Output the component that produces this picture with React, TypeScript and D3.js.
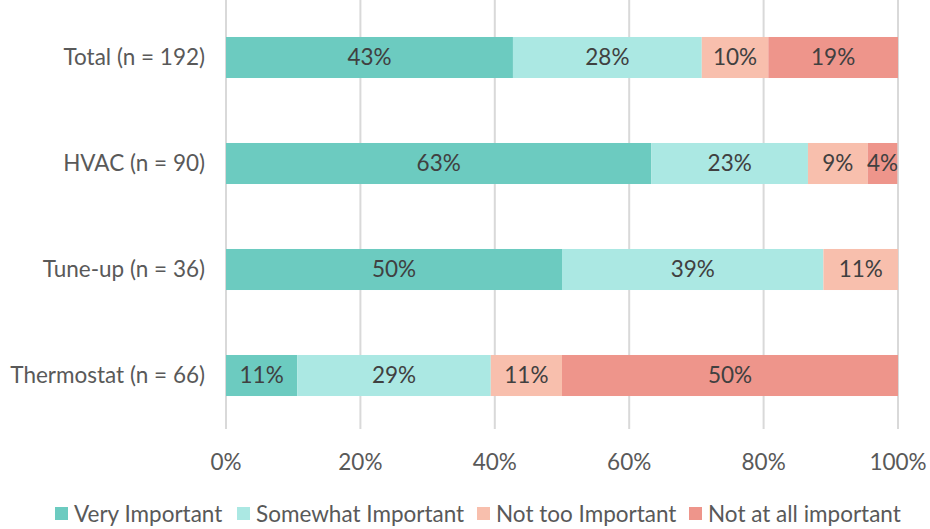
import React from "react";
import * as d3 from "d3";

const categories = ["Total (n = 192)", "HVAC (n = 90)", "Tune-up (n = 36)", "Thermostat (n = 66)"];
const seriesNames = ["Very Important", "Somewhat Important", "Not too Important", "Not at all important"];
const veryImportant = [42.7, 63.3, 50.0, 10.6];
const somewhatImportant = [28.1, 23.3, 38.9, 28.8];
const notTooImportant = [9.9, 8.9, 11.1, 10.6];
const notAtAllImportant = [19.3, 4.4, 0, 50.0];
const xTicks = [0, 20, 40, 60, 80, 100];
const colors = ["#6ccbc0", "#abe8e3", "#f8bfad", "#ee958b"];

const W = 930, H = 529;
const FONT = "Lato, 'Open Sans', sans-serif";
const FS = 22.5;

export default function App() {
  const series = [veryImportant, somewhatImportant, notTooImportant, notAtAllImportant];
  const x = d3.scaleLinear().domain([0, 100]).range([226, 898]);
  const y = d3.scaleBand<string>().domain(categories).range([4.5, 428.5]).paddingInner(0.613).paddingOuter(0.3065);
  const rows = categories.map((c, i) => {
    let acc = 0;
    return series.map((s, k) => {
      const v = s[i];
      const seg = { k, x0: acc, x1: acc + v, v };
      acc += v;
      return seg;
    });
  });
  const legendX = [55, 237, 477, 689];
  return (
    <svg width={W} height={H} style={{ position: "absolute", left: 0, top: 0, background: "#fff" }} fontFamily={FONT}>
      <rect width={W} height={H} fill="#fff" />
      {xTicks.map((t) => (
        <line key={t} x1={x(t)} x2={x(t)} y1={0} y2={429} stroke="#d9d9d9" strokeWidth={2} />
      ))}
      {rows.map((segs, i) => (
        <g key={categories[i]}>
          {segs.filter((s) => s.v > 0).map((s) => (
            <g key={s.k}>
              <rect x={x(s.x0)} y={y(categories[i])} width={x(s.x1) - x(s.x0)} height={y.bandwidth()} fill={colors[s.k]} />
              <text x={(x(s.x0) + x(s.x1)) / 2} y={y(categories[i])! + y.bandwidth() / 2} dy="0.35em" textAnchor="middle" fontSize={FS} fill="#404040">
                {Math.round(s.v)}%
              </text>
            </g>
          ))}
          <text x={205} y={y(categories[i])! + y.bandwidth() / 2} dy="0.35em" textAnchor="end" fontSize={FS} fill="#595959">
            {categories[i]}
          </text>
        </g>
      ))}
      {xTicks.map((t) => (
        <text key={t} x={x(t)} y={462} dy="0.35em" textAnchor="middle" fontSize={FS} fill="#595959">
          {t}%
        </text>
      ))}
      {seriesNames.map((n, k) => (
        <g key={n}>
          <rect x={legendX[k]} y={507} width={13} height={13} fill={colors[k]} />
          <text x={legendX[k] + 19} y={514} dy="0.35em" fontSize={FS} fill="#595959">{n}</text>
        </g>
      ))}
    </svg>
  );
}
